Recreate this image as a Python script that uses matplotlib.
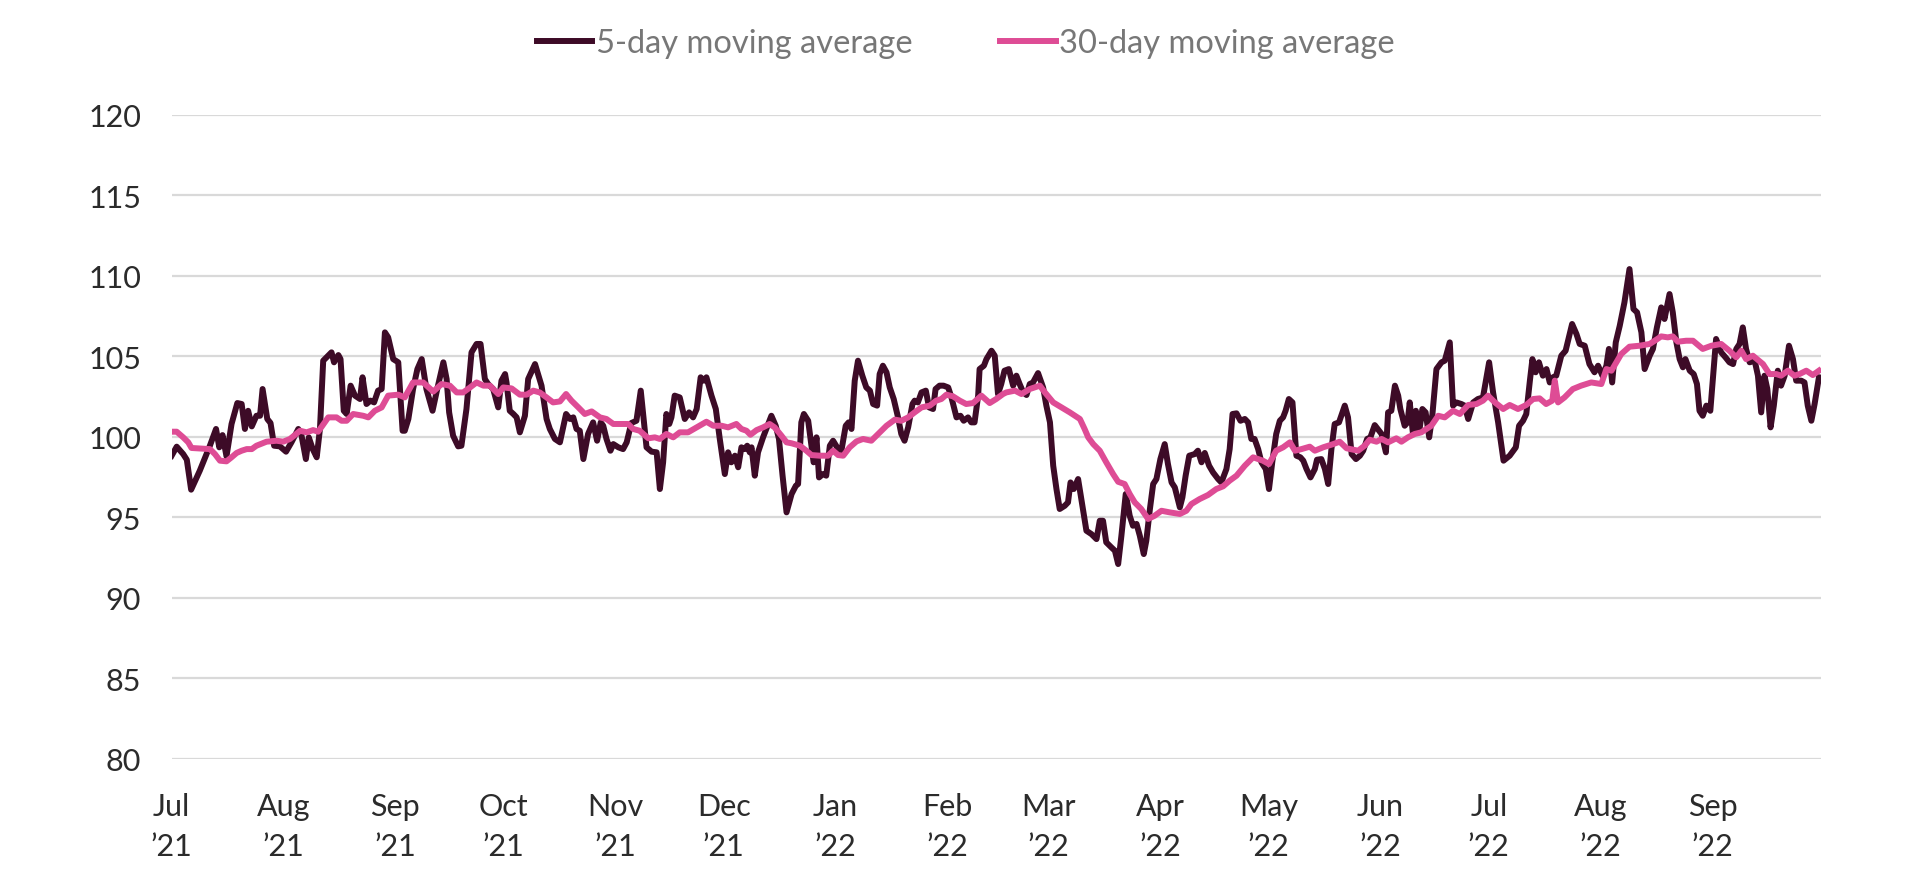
import matplotlib.pyplot as plt
import matplotlib.dates as mdates
import pandas as pd

# days counted from 1 Jul 2021
start = pd.Timestamp('2021-07-01')

days_5d = [0.0, 1.4, 3.2, 4.2, 5.4, 7.8, 10.6, 12.3, 13.2, 14.1, 15.2, 16.6, 18.2, 19.4, 20.3, 21.2, 22.2, 23.5,
           24.5, 25.2, 26.5, 27.4, 28.4, 30.0, 31.7, 33.2, 35.1, 36.0, 37.2, 38.0, 39.1, 40.2, 41.1, 42.0, 44.3,
           45.0, 46.2, 46.8, 47.7, 48.5, 49.6, 50.8, 52.2, 52.9, 54.0, 55.1, 56.1, 57.2, 58.2, 59.1, 60.0, 61.4,
           62.8, 64.0, 64.6, 65.6, 66.9, 68.1, 69.3, 70.6, 72.3, 73.6, 75.3, 76.2, 76.9,
           78.0, 79.4, 80.3, 81.7, 83.1, 84.5, 85.6, 86.8, 87.7, 89.1, 90.5, 91.4, 92.4, 92.8, 93.7, 94.7, 95.6,
           96.5, 97.9, 98.8, 100.7, 102.5, 103.9, 104.8, 106.2, 107.6, 109.3, 110.4, 111.3, 112.2, 113.1, 114.1,
           115.4, 116.8, 117.9, 118.9, 119.6, 120.5, 121.6, 122.4, 123.8, 125.1, 126.1, 127.4, 128.8, 130.0,
           130.9, 131.6, 133.0, 134.4, 135.3, 136.2, 137.1, 137.9, 138.5, 139.4, 140.8, 142.2, 143.4, 144.5,
           145.5, 146.6, 147.5, 148.2, 149.6, 150.8, 151.9, 153.3, 154.2,
           155.1, 156.1, 157.0, 157.9, 158.8, 159.5, 160.2, 160.7, 161.6, 162.5, 163.9, 166.2, 167.4, 168.3,
           169.3, 170.4, 171.8, 173.0, 173.6, 174.5, 175.2, 176.4, 177.0, 177.9, 178.7, 179.4, 180.5, 181.4,
           182.4, 183.3, 184.7, 185.6, 186.8, 187.6, 188.4, 189.3, 190.2, 191.4, 192.5, 193.5, 194.4, 195.5,
           196.2, 197.1, 198.1, 199.0, 200.1, 201.3, 202.2, 203.1, 204.1, 205.3, 205.9, 206.8, 207.8, 209.0,
           209.9, 211.0, 211.7, 212.8, 213.9, 215.2, 216.1, 217.5, 218.6, 219.5, 220.7, 221.6, 222.5, 223.5,
           223.9, 225.1, 225.8, 227.2, 228.1, 229.0, 229.9, 230.8, 232.0,
           233.2, 234.1, 235.0, 236.0, 236.9, 237.8, 238.7, 240.1, 241.5, 242.4, 243.4, 244.3, 245.2, 246.1,
           247.5, 248.4, 249.1, 250.0, 251.2, 252.1, 253.5, 254.9, 256.3, 257.2, 258.1, 259.0, 260.4, 261.4,
           262.3, 263.2, 264.4, 265.5, 266.4, 267.4, 268.3, 269.4, 270.1, 271.1, 272.0, 272.9, 274.0, 275.2,
           276.1, 277.1, 278.0, 279.4, 280.1, 281.0, 282.0, 283.5, 284.4, 285.4, 286.3, 287.5, 288.6, 290.0,
           290.9, 292.3, 293.2, 294.0, 295.1, 296.2, 297.4, 298.3, 299.2, 300.1, 301.1, 302.0, 303.2, 304.1,
           305.0, 306.1, 307.1, 308.0, 308.7, 309.6,
           310.6, 311.7, 312.8, 313.6, 314.5, 315.6, 316.8, 317.4, 318.6, 319.6, 320.5, 321.4, 322.3, 323.5,
           325.1, 326.0, 327.0, 328.2, 329.3, 330.2, 331.3, 332.2, 333.4, 334.6, 335.3, 336.5, 337.1, 338.0,
           339.0, 339.9, 340.5, 341.7, 342.5, 343.1, 344.0, 344.8, 345.7, 346.6, 347.5, 348.5, 349.4, 350.5,
           351.9, 352.8, 354.2, 355.1, 356.0, 357.4, 358.3, 359.3, 360.7, 362.0, 363.4, 365.1, 366.2, 367.6,
           369.1, 370.8, 372.5, 373.4, 374.5, 375.4, 376.4, 377.1, 378.0, 378.9, 380.0, 381.0, 381.9, 382.8,
           383.7, 385.1, 386.3,
           388.1, 389.3, 390.2, 391.6, 392.9, 394.3, 395.3, 396.5, 397.6, 398.3, 399.2, 400.2, 401.3, 402.6,
           404.0, 405.1, 406.1, 407.3, 408.2, 409.6, 410.5, 411.6, 412.8, 413.7, 415.1, 416.0, 417.0, 417.9,
           418.8, 419.5, 420.7, 421.8, 422.7, 423.4, 424.3, 425.3, 426.4, 427.1, 428.0, 429.4, 430.6, 431.7,
           432.7, 433.6, 434.5, 435.4, 436.3, 437.3, 438.7, 439.6, 440.5, 441.4, 442.2, 443.1, 444.0, 445.1,
           446.0, 447.0, 448.2, 449.3, 450.2, 451.6, 452.5, 453.4, 454.4, 455.3, 456.5]
vals_5d = [98.82, 99.38, 98.92, 98.57, 96.71, 97.89, 99.44, 100.48, 99.34, 100.10, 98.78, 100.79, 102.09, 102.03,
           100.48, 101.61, 100.64, 101.30, 101.30, 102.96, 101.10, 100.85, 99.44, 99.40, 99.07, 99.65, 100.48,
           100.06, 98.61, 99.96, 99.23, 98.72, 100.48, 104.72, 105.24, 104.62, 105.07, 104.82, 101.61, 101.41,
           103.17, 102.55, 102.34, 103.69, 102.03, 102.24, 102.13, 102.86, 102.96, 106.48, 106.17, 104.82,
           104.62, 100.37, 100.37, 101.10, 102.96, 104.20, 104.82, 102.96, 101.61, 102.96, 104.62, 103.58, 101.51,
           100.06, 99.40, 99.44, 101.72, 105.24, 105.76, 105.76, 103.58, 103.27, 102.96, 101.82, 103.48, 103.89,
           103.37, 101.61, 101.41, 101.20, 100.27, 101.30, 103.58, 104.51, 103.17, 101.10, 100.48, 99.86, 99.65,
           101.41, 101.10, 101.20, 100.48, 100.37, 98.61, 100.17, 100.89, 99.75, 100.89, 100.68, 99.86, 99.13,
           99.54, 99.34, 99.23, 99.65, 100.85, 100.99, 102.86, 100.89, 99.34, 99.07, 99.03, 96.75, 98.41, 101.41,
           100.79, 101.20, 102.55, 102.44, 101.10, 101.51, 101.20, 101.72, 103.69, 103.48, 103.69, 102.55, 101.72,
           99.86, 97.68, 99.03,
           98.41, 98.82, 98.10, 99.34, 99.23, 99.44, 99.03, 99.34, 97.58, 99.03, 99.96, 101.30, 100.68, 99.86,
           97.58, 95.30, 96.44, 96.96, 97.06, 100.89, 101.41, 100.99, 99.96, 98.41, 99.96, 97.47, 97.68, 97.58,
           99.44, 99.75, 99.23, 99.13, 100.68, 100.89, 100.48, 103.48, 104.72, 103.79, 103.06, 102.86, 102.03,
           101.93, 103.89, 104.41, 104.00, 103.06, 102.34, 101.20, 100.17, 99.75, 100.58, 102.03, 102.24, 102.13,
           102.75, 102.86, 101.82, 101.72, 102.96, 103.17, 103.17, 103.06, 102.44, 101.20, 101.30, 100.99, 101.20,
           100.89, 100.89, 102.55, 104.20, 104.41, 104.82, 105.34, 105.03, 102.65, 103.27, 104.10, 104.20,
           103.17, 103.79, 103.27, 102.75, 102.59, 103.27, 103.37, 103.95, 103.06, 101.93, 100.89, 98.20, 96.75,
           95.51, 95.71, 95.92, 97.16, 96.75, 97.37, 96.13, 94.16, 93.95, 93.64, 94.78, 94.78, 93.44, 93.13,
           92.92, 92.09, 93.85, 96.44, 95.09, 94.47, 94.58, 93.85, 92.71, 93.54, 95.51, 97.06, 97.37, 98.61,
           99.54, 98.30, 97.16, 96.85, 95.61, 96.23, 97.58, 98.82, 98.92, 99.13, 98.41, 98.99, 98.20, 97.78,
           97.37, 97.16, 97.99, 99.23, 101.41, 101.45, 100.99, 101.10, 100.89, 99.86, 99.86, 99.23, 98.41, 97.99,
           96.75, 98.41, 100.17, 100.99, 101.20, 101.61, 102.34,
           102.13, 98.82, 98.72, 98.51, 97.99, 97.47, 97.99, 98.57, 98.61, 97.99, 97.06, 99.23, 100.79, 100.89,
           101.93, 101.20, 98.92, 98.61, 98.82, 99.13, 99.86, 99.96, 100.72, 100.37, 100.17, 99.03, 101.51,
           101.61, 103.17, 102.55, 101.72, 100.68, 100.89, 102.13, 100.17, 101.61, 100.27, 101.72, 101.51, 99.96,
           101.41, 104.20, 104.62, 104.72, 105.86, 101.93, 102.13, 102.03, 101.93, 101.10, 102.13, 102.34, 102.44,
           104.62, 102.75, 100.89, 98.51, 98.82, 99.34, 100.68, 100.99, 101.41, 103.48, 104.82, 104.00, 104.62,
           103.79, 104.20, 103.37, 103.69, 103.79, 105.03, 105.34,
           107.00, 106.38, 105.76, 105.65, 104.51, 104.00, 104.41, 103.79, 104.41, 105.45, 103.37, 105.86, 106.89,
           108.34, 110.41, 107.93, 107.72, 106.48, 104.20, 105.03, 105.45, 106.79, 108.03, 107.31, 108.86, 107.72,
           105.86, 104.82, 104.31, 104.82, 104.10, 103.89, 103.27, 101.61, 101.30, 101.93, 101.61, 103.58, 106.07,
           105.24, 104.93, 104.62, 104.51, 105.45, 105.76, 106.79, 105.45, 104.62, 104.72, 103.79, 101.51, 103.79,
           102.96, 100.58, 101.93, 104.10, 103.17, 103.79, 105.65, 104.82, 103.48, 103.48, 103.37, 101.93, 100.99,
           102.03, 103.69]

days_30d = [0.0, 1.4, 3.2, 4.6, 5.5, 10.6, 12.0, 13.4, 15.2, 16.6, 18.0, 19.4, 20.8, 22.2, 23.5, 26.3, 29.1, 30.9,
            32.8, 35.6, 37.4, 39.2, 40.6, 43.4, 45.7, 47.1, 48.5, 50.3, 53.1, 54.5, 56.3, 58.2, 60.0, 62.8, 64.6,
            66.9, 69.7, 72.5, 74.8, 77.1, 79.0, 80.8, 82.7, 84.5, 86.4, 88.2, 90.5, 91.9, 94.2, 96.5, 98.4, 100.2,
            102.0, 103.9, 105.7, 107.6, 109.3, 110.8, 112.7, 114.5, 116.4, 118.7, 120.5, 122.4, 124.7, 126.5,
            127.9, 129.7, 132.1, 133.9, 135.3, 137.1, 139.0, 140.8, 143.1, 145.5, 148.2, 150.1, 152.4, 154.2,
            156.5, 157.9, 159.3, 160.4, 162.1, 163.9, 165.7, 167.1, 169.0, 170.4, 171.8, 174.1, 175.9, 177.3,
            179.6, 181.9, 183.3, 184.7, 186.1, 187.9, 189.8, 191.6, 193.9, 195.8, 198.1, 200.4, 202.2, 204.1,
            205.9, 207.8, 210.1, 211.9, 213.3, 214.7, 216.5, 218.4, 220.2, 222.1, 224.4, 226.7, 228.5, 230.4,
            231.3, 233.7, 235.5, 237.8, 240.6, 242.0, 244.3, 246.6, 248.9, 251.7, 253.0, 254.0, 255.4, 257.2,
            259.0, 260.9, 262.3, 264.1, 265.5, 266.9, 268.7, 270.6, 272.4, 274.3, 276.6, 279.4, 281.2, 282.6,
            284.9, 287.2, 289.5, 291.4, 293.2, 295.1, 297.4, 299.7, 302.4, 304.1, 306.1, 308.0, 309.9, 311.3,
            313.1, 315.4, 316.8, 319.1, 321.9, 323.7, 325.6, 328.8, 330.6, 332.0, 333.9, 335.3, 337.1, 339.4,
            340.8, 342.6, 344.5, 346.3, 349.1, 351.0, 352.8, 355.1, 357.0, 359.3, 361.6, 363.4, 364.8, 366.7,
            369.0, 370.8, 373.1, 375.4, 377.3, 379.1, 380.9, 382.6, 383.3, 384.2, 386.0, 388.3, 390.6, 392.0,
            393.4, 396.2, 397.6, 399.0, 401.7, 404.0, 406.8, 409.6, 411.0, 412.8, 414.6, 416.0, 417.4, 419.7,
            421.6, 424.3, 426.7, 429.4, 431.7, 433.6, 435.0, 436.3, 438.2, 441.0, 442.8, 444.7, 446.0, 447.9,
            449.7, 451.1, 453.0, 454.8, 456.5]
vals_30d = [100.31, 100.31, 99.96, 99.65, 99.30, 99.23, 98.92, 98.51, 98.47, 98.72, 98.99, 99.13, 99.23, 99.23,
            99.44, 99.69, 99.75, 99.69, 99.86, 100.37, 100.27, 100.41, 100.31, 101.20, 101.20, 100.99, 100.99,
            101.41, 101.30, 101.20, 101.61, 101.82, 102.55, 102.61, 102.44, 103.37, 103.37, 102.80, 103.27,
            103.17, 102.75, 102.75, 103.06, 103.37, 103.17, 103.17, 102.65, 103.06, 103.00, 102.61, 102.61,
            102.86, 102.75, 102.44, 102.13, 102.19, 102.65, 102.24, 101.82, 101.41, 101.57, 101.20, 101.10,
            100.79, 100.79, 100.79, 100.48, 100.37, 99.90, 99.96, 99.86, 100.17, 99.96, 100.27, 100.27, 100.58,
            100.93, 100.68, 100.68, 100.58,
            100.79, 100.48, 100.37, 100.12, 100.41, 100.58, 100.79, 100.58, 100.06, 99.65, 99.59, 99.44, 99.13,
            98.86, 98.82, 98.82, 99.13, 98.86, 98.82, 99.34, 99.71, 99.86, 99.75, 100.17, 100.68, 101.06, 100.99,
            101.20, 101.51, 101.82, 101.93, 102.24, 102.34, 102.61, 102.51, 102.24, 102.03, 102.09, 102.55,
            102.09, 102.34, 102.65,
            102.75, 102.86, 102.65, 102.96, 103.17, 102.75, 102.13, 101.82, 101.51, 101.10, 100.48, 99.96, 99.54,
            99.13, 98.41, 97.68, 97.20, 97.06, 96.44, 95.92, 95.51, 94.89, 95.09, 95.40, 95.30, 95.20, 95.40,
            95.82, 96.13, 96.38, 96.75, 96.92, 97.27, 97.58, 98.20, 98.72, 98.51, 98.30, 99.13, 99.34,
            99.65, 99.13, 99.23, 99.38, 99.13, 99.34, 99.54, 99.69, 99.28, 99.13, 99.44, 99.81, 99.69, 99.86,
            99.65, 99.90, 99.69, 99.96, 100.17, 100.27, 100.68, 101.30, 101.20, 101.61, 101.41, 101.97, 102.03,
            102.24, 102.55, 102.13, 101.72, 101.97, 101.72, 101.97, 102.34, 102.38, 102.03, 102.24, 103.48,
            102.13, 102.44, 102.96, 103.17, 103.27, 103.37, 103.27, 104.20, 104.10, 105.13, 105.59, 105.65,
            105.76, 105.96, 106.23, 106.17, 106.23, 105.90, 105.96, 105.96, 105.45, 105.65, 105.76, 105.34,
            104.93, 105.34, 104.82, 105.03, 104.51, 103.89, 103.89, 103.79, 104.10, 103.79, 103.89, 104.10,
            103.83, 104.10]

month_ticks = pd.date_range('2021-07-01', '2022-09-01', freq='MS')
y_ticks = [80, 85, 90, 95, 100, 105, 110, 115, 120]

dark = '#3d0b27'
pink = '#de4c95'

plt.rcParams['font.family'] = ['Lato', 'DejaVu Sans']

fig = plt.figure(figsize=(19.2, 8.79), dpi=100)
ax = fig.add_axes([0.0894, 0.1357, 0.8589, 0.7327])

x5 = start + pd.to_timedelta(days_5d, unit='D')
x30 = start + pd.to_timedelta(days_30d, unit='D')
ax.plot(x5, vals_5d, color=dark, lw=4.3, solid_joinstyle='round', label='5-day moving average')
ax.plot(x30, vals_30d, color=pink, lw=4.3, solid_joinstyle='round', label='30-day moving average')

ax.set_ylim(80, 120)
ax.set_yticks(y_ticks)
ax.set_xlim(start, pd.Timestamp('2022-10-01'))
ax.set_xticks(month_ticks)
ax.set_xticklabels([d.strftime('%b') + '\n\u2019' + d.strftime('%y') for d in month_ticks])
ax.grid(axis='y', color='#d9d9d9', lw=1.6)
ax.set_axisbelow(True)
for s in ax.spines.values():
    s.set_visible(False)
ax.tick_params(axis='both', length=0, labelsize=22, colors='#2b2b2b')
ax.tick_params(axis='y', pad=22)
ax.tick_params(axis='x', pad=24)
for t in ax.get_xticklabels():
    t.set_linespacing(1.5)

leg = fig.legend(loc='center', bbox_to_anchor=(0.503, 0.95), ncol=2, frameon=False, fontsize=23.5,
                 handlelength=1.7, handletextpad=0.1, columnspacing=2.7)
for t in leg.get_texts():
    t.set_color('#777777')

fig.savefig('out.png', dpi=100)
